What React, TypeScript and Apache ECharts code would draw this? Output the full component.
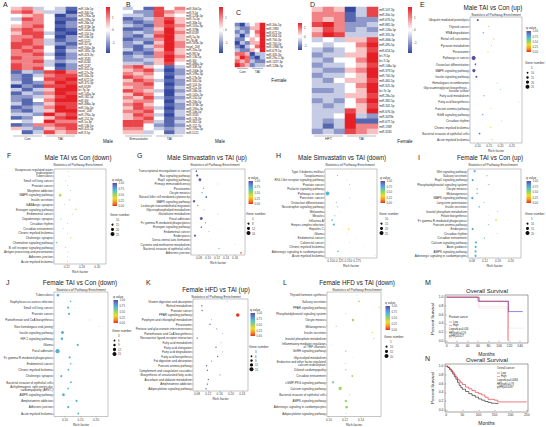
import React, { useEffect, useRef } from "react";
import * as echarts from "echarts";

const FONT = "'Liberation Sans', Arial, sans-serif";
const HEAT_COLORS = ["#3448a0", "#ffffff", "#e51f25"];
const Q_COLORS = ["#ec2b1f", "#f59a23", "#eadf2c", "#9bd25c", "#52c2d0", "#5a8ad5", "#5c4aa6"];

// ---------------- Heatmap A (Male, Con vs TAI) ----------------
const A_rows = ["miR-10b-5p","miR-340-5p","miR-190a-5p","miR-199a-5p","miR-26b-5p","miR-374b-5p","miR-142a-5p","miR-150-5p","miR-20b-5p","miR-5121","miR-32-5p","miR-200a-3p","miR-181c-5p","miR-423-3p","miR-3535","miR-6240","miR-2137","miR-455-5p","miR-27a-3p","miR-34a-5p","miR-672-5p","miR-375-3p","miR-6539","let-7g-5p","miR-145a-5p","miR-182-5p","miR-30f","miR-486a-5p","miR-10a-5p","novel_208","miR-195a-5p","miR-152-3p","miR-1a-3p","miR-136-5p","miR-425-5p","miR-9-5p"];
// digits 0..8 -> z-score (d-4)/2
const A_cells = ["563431","675330","456402","376411","466402","567412","676401","577310","667402","676312","776321","767402","676413","667302","766412","667323","766302","767412","132786","213677","214778","312687","021778","313588","132687","223578","214688","312577","123687","213588","332867","124578","434866","126677","532567","413756"];

// ---------------- Heatmap B (Male, Simvastatin vs TAI) ----------------
const B_rows = ["miR-30d-5p","miR-9-5p","miR-125b-5p","miR-7a-5p","miR-30b-5p","miR-101a-3p","miR-378b","miR-6539","miR-1a-3p","let-7g-5p","miR-181b-5p","novel_208","miR-10a-5p","miR-98-5p","miR-136-5p","miR-30f","miR-486a-5p","miR-338-5p","miR-200b-5p","miR-199a-5p","miR-27b-3p","miR-340-5p","miR-154-3p","miR-21a-5p","miR-26b-5p","miR-142a-5p","miR-150-5p","miR-20b-5p","miR-374b-5p","miR-190a-5p","miR-10b-5p","miR-3535","miR-128-3p","miR-362-5p","miR-152-3p","miR-195a-5p","miR-5121"];
const B_cells = ["341746","422765","332754","123675","212685","321676","112585","232686","213785","122685","231586","213686","312585","121675","232686","223585","332574","675413","567302","656412","765403","576312","667402","566413","765302","576403","657312","566403","675412","576302","667413","576303","567412","776313","774212","664323","553413"];

// ---------------- Heatmap C (Female, Con vs TAI) ----------------
const C_rows = ["miR-34a-5p","miR-1983","miR-672-5p","miR-664-5p","miR-700-3p","miR-700-5p","miR-1968-5p","miR-679-5p","miR-335-3p","miR-29a-1-3p","miR-1197-3p","miR-126b-5p"];
const C_cells = ["213458","322558","232468","313458","224548","132558","213468","322548","665133","576213","656322","765233"];

// ---------------- Heatmap D (Female, HFT vs TAI) ----------------
const D_rows = ["miR-107-3p","miR-30e-5p","miR-676-5p","miR-881-3p","miR-126a-5p","miR-335-3p","miR-466i-5p","miR-490-5p","miR-653-5p","let-7f-5p","let-7i-5p","miR-146a-5p","miR-379-5p","miR-700-3p","miR-465-5p","miR-325-3p","let-7e-5p","miR-28a-5p","miR-382-5p","miR-341-5p","miR-676-3p","miR-3473b","miR-677-5p","miR-1949","miR-3535"];
const D_cells = ["565037","666137","656122","786223","576232","687333","343557","434468","323457","233558","324468","233457","322568","233458","324557","333468","223458","333557","232468","323457","333758","334832","323811","313866","232765"];

// ---------------- E: Male TAI vs Con (up) ----------------
const E_terms = ["Ubiquitin mediated proteolysis","Thyroid cancer","RNA degradation","Renal cell carcinoma","Pyruvate metabolism","Peroxisome","Pathways in cancer","Osteoclast differentiation","MAPK signaling pathway","Insulin signaling pathway","Homologous recombination","Glycosaminoglycan biosynthesis -\nkeratan sulfate","Fatty acid metabolism","Fatty acid biosynthesis","Fanconi anemia pathway","ErbB signaling pathway","Circadian rhythm","Chronic myeloid leukemia","Bacterial invasion of epithelial cells","Acute myeloid leukemia"];
const E_rich = [0.10,0.148,0.124,0.17,0.16,0.145,0.082,0.09,0.083,0.094,0.185,0.20,0.127,0.28,0.158,0.122,0.205,0.157,0.108,0.163];
const E_q = [0.95,0.5,0.75,0.3,0.45,0.35,1.0,0.95,1.0,0.95,0.55,0.6,0.75,0.6,0.35,0.7,0.55,0.35,0.9,0.4];
const E_genes = [12,5,7,7,5,6,26,9,20,12,4,4,6,3,5,7,4,6,9,6];
const E_ticks = [0.10,0.15,0.20,0.25];

// ---------------- F: Male TAI vs Con (down) ----------------
const F_terms = ["Vasopressin-regulated water\nreabsorption","Tuberculosis","Small cell lung cancer","Prostate cancer","Morphine addiction","MAPK signaling pathway","Insulin secretion","GABAergic synapse","Estrogen signaling pathway","Endometrial cancer","Dopaminergic synapse","Circadian rhythm","Circadian entrainment","Chronic myeloid leukemia","Cholinergic synapse","Chemokine signaling pathway","B cell receptor signaling pathway","Antigen processing and presentation","Adherens junction","Acute myeloid leukemia"];
const F_rich = [0.124,0.126,0.117,0.123,0.130,0.103,0.127,0.114,0.144,0.136,0.105,0.122,0.111,0.122,0.131,0.094,0.117,0.123,0.122,0.122];
const F_q = [0.6,0.6,0.55,0.6,0.6,0.45,0.6,0.6,0.35,0.6,0.65,0.6,0.6,0.6,0.35,0.72,0.6,0.6,0.6,0.6];
const F_genes = [9,9,9,9,9,18,10,9,12,9,10,9,9,9,11,11,9,9,9,9];
const F_ticks = [0.12,0.16,0.20];

// ---------------- G: Male Simvastatin vs TAI (up) ----------------
const G_terms = ["Transcriptional misregulation in cancer","Ras signaling pathway","Rap1 signaling pathway","Primary immunodeficiency","Peroxisome","Oocyte meiosis","Natural killer cell mediated cytotoxicity","MAPK signaling pathway","Leukocyte transendothelial migration","Glycerophospholipid metabolism","Glutathione metabolism","Focal adhesion","Fc gamma R-mediated phagocytosis","Estrogen signaling pathway","Endometrial cancer","Endocytosis","Dorso-ventral axis formation","Cysteine and methionine metabolism","Bacterial invasion of epithelial cells","Adherens junction"];
const G_rich = [0.074,0.076,0.082,0.122,0.090,0.087,0.096,0.069,0.077,0.091,0.122,0.085,0.094,0.085,0.102,0.071,0.105,0.16,0.124,0.173];
const G_q = [0.95,0.95,0.95,0.6,0.7,0.7,0.9,0.95,0.8,0.7,0.6,0.95,0.7,0.9,0.6,0.95,0.6,0.55,0.65,0.05];
const G_genes = [6,9,11,3,5,5,7,10,5,4,3,12,5,6,4,9,2,3,5,6];
const G_ticks = [0.08,0.10,0.12,0.14,0.16];

// ---------------- H: Male Simvastatin vs TAI (down) ----------------
const H_terms = ["Type II diabetes mellitus","Toxoplasmosis","RIG-I-like receptor signaling pathway","Prostate cancer","Prolactin signaling pathway","Pathways in cancer","Pancreatic cancer","Osteoclast differentiation","Neurotrophin signaling pathway","Melanoma","Measles","Influenza A","Herpes simplex infection","Hepatitis C","Glioma","Endometrial cancer","Colorectal cancer","Chronic myeloid leukemia","Adrenergic signaling in cardiomyocytes","Acute myeloid leukemia"];
const H_rich = [0.16,0.119,0.146,0.154,0.157,0.09,0.154,0.115,0.118,0.125,0.111,0.103,0.108,0.151,0.146,0.175,0.154,0.194,0.12,0.227];
const H_q = [0.55,0.75,0.6,0.7,0.6,0.7,0.65,0.7,0.7,0.6,0.72,0.72,0.72,0.3,0.6,0.6,0.6,0.35,0.7,0.55];
const H_genes = [5,10,6,9,8,24,9,10,10,6,10,12,14,12,6,5,5,7,12,5];
const H_ticks = [0.100,0.125,0.150,0.175];

// ---------------- I: Female TAI vs Con (up) ----------------
const I_terms = ["Wnt signaling pathway","Salivary secretion","Rap1 signaling pathway","Phosphatidylinositol signaling system","Oocyte meiosis","Melanogenesis","MAPK signaling pathway","Long-term potentiation","Insulin secretion","Inositol phosphate metabolism","Folate biosynthesis","Fc gamma R-mediated phagocytosis","Fanconi anemia pathway","Endocytosis","Circadian rhythm","Circadian entrainment","Calcium signaling pathway","Axon guidance","AMPK signaling pathway","Adrenergic signaling in cardiomyocytes"];
const I_rich = [0.088,0.126,0.082,0.132,0.096,0.096,0.081,0.117,0.102,0.159,0.13,0.154,0.131,0.082,0.157,0.118,0.092,0.091,0.091,0.091];
const I_q = [0.72,0.6,0.72,0.6,0.7,0.7,0.72,0.65,0.7,0.35,0.6,0.35,0.6,0.72,0.55,0.65,0.72,0.72,0.72,0.72];
const I_genes = [10,6,11,6,7,7,12,5,7,6,3,8,5,11,4,6,10,10,10,10];
const I_ticks = [0.08,0.12,0.16,0.20];

// ---------------- J: Female TAI vs Con (down) ----------------
const J_terms = ["Tuberculosis","Staphylococcus aureus infection","Small cell lung cancer","Prostate cancer","Pantothenate and CoA biosynthesis","Non-homologous end-joining","Insulin signaling pathway","HIF-1 signaling pathway","Glioma","Focal adhesion","Fc gamma R-mediated phagocytosis","Endometrial cancer","Chronic myeloid leukemia","Cholinergic synapse","Bacterial invasion of epithelial cells","Arrhythmogenic right ventricular\ncardiomyopathy (ARVC)","AMPK signaling pathway","Amphetamine addiction","Adherens junction","Acute myeloid leukemia"];
const J_rich = [0.077,0.118,0.110,0.113,0.18,0.21,0.092,0.090,0.141,0.076,0.115,0.118,0.111,0.088,0.119,0.110,0.095,0.137,0.110,0.143];
const J_q = [0.72,0.65,0.72,0.72,0.6,0.6,0.72,0.72,0.72,0.72,0.72,0.65,0.72,0.72,0.72,0.65,0.72,0.72,0.72,0.72];
const J_genes = [10,5,7,7,2,2,11,9,7,16,7,5,6,7,6,6,10,7,7,6];
const J_ticks = [0.10,0.15,0.20];

// ---------------- K: Female HFD vs TAI (up) ----------------
const K_terms = ["Vitamin digestion and absorption","Retinol metabolism","Prostate cancer","PPAR signaling pathway","Porphyrin and chlorophyll metabolism","Peroxisome","Pentose and glucuronate interconversions","Pantothenate and CoA biosynthesis","Neuroactive ligand-receptor interaction","Fatty acid metabolism","Fatty acid elongation","Fatty acid degradation","Fatty acid biosynthesis","Fat digestion and absorption","Fanconi anemia pathway","Complement and coagulation cascades","Biosynthesis of unsaturated fatty acids","Ascorbate and aldarate metabolism","Amphetamine addiction","Adipocytokine signaling pathway"];
const K_rich = [0.186,0.097,0.098,0.224,0.131,0.126,0.150,0.17,0.081,0.165,0.147,0.17,0.153,0.132,0.114,0.117,0.161,0.120,0.117,0.112];
const K_q = [0.9,0.95,0.95,0.02,0.9,0.95,0.9,0.9,0.95,0.9,0.95,0.9,0.95,0.9,0.95,0.95,0.9,0.95,0.95,0.95];
const K_genes = [2,4,4,13,2,4,3,2,4,2,4,2,4,3,4,4,3,4,4,4];
const K_ticks = [0.08,0.12,0.16,0.20,0.24];

// ---------------- L: Female HFD vs TAI (down) ----------------
const L_terms = ["Thyroid hormone synthesis","Salivary secretion","PPAR signaling pathway","Phosphatidylinositol signaling system","Oocyte meiosis","Melanogenesis","Insulin secretion","Inositol phosphate metabolism","Inflammatory mediator regulation\nof TRP channels","GnRH signaling pathway","Glycerolipid metabolism","Endocrine and other factor-regulated\ncalcium reabsorption","Dilated cardiomyopathy","Circadian entrainment","cGMP-PKG signaling pathway","Calcium signaling pathway","Bacterial invasion of epithelial cells","AMPK signaling pathway","Adrenergic signaling in cardiomyocytes","Adipocytokine signaling pathway"];
const L_rich = [0.135,0.1375,0.1625,0.121,0.13,0.109,0.154,0.156,0.104,0.121,0.13,0.12,0.121,0.129,0.105,0.114,0.126,0.121,0.122,0.121];
const L_q = [0.55,0.45,0.35,0.55,0.5,0.55,0.4,0.5,0.6,0.55,0.55,0.55,0.55,0.5,0.6,0.5,0.55,0.5,0.5,0.55];
const L_genes = [4,8,6,4,12,5,6,5,3,6,3,4,6,8,10,16,5,12,14,4];
const L_ticks = [0.10,0.12,0.14];

// ---------------- M: Overall Survival (Prostate cancer) ----------------
const M_low_t = [0, 60, 118, 145];
const M_low_s = [1, 0.91, 0.67, 0.67];
const M_low_lo = [1, 0.79, 0.29, 0.29];
const M_high_t = [0, 62, 117, 117];
const M_high_s = [1, 0.9, 0.0, 0.0];
const M_high_lo = [1, 0.75, 0.0, 0.0];
const M_ticks = [0, 20, 40, 60, 80, 100, 120, 140];

// ---------------- N: Overall Survival ----------------
const N_low_t = [0,5,10,15,20,25,30,35,40,45,50,60,70,80,90,100,110,120,130,140,150,162];
const N_low_s = [1,0.97,0.93,0.88,0.82,0.76,0.7,0.63,0.56,0.51,0.47,0.42,0.37,0.33,0.29,0.25,0.22,0.19,0.17,0.15,0.14,0.14];
const N_high_t = [0,5,10,15,20,25,30,35,40,45,50,60,70,80,90,100,110,120,130,150,160,250];
const N_high_s = [1,0.97,0.94,0.9,0.85,0.8,0.75,0.7,0.66,0.62,0.58,0.52,0.48,0.44,0.4,0.37,0.34,0.29,0.24,0.22,0.18,0.18];
const N_ticks = [0, 50, 100, 150, 200, 250];
const Y_surv_ticks = [0, 0.2, 0.4, 0.6, 0.8, 1.0];

function sizeOf(g: number, gMin: number, gMax: number) {
  return Math.max(0.6, 1.0 + ((g - gMin) / (gMax - gMin)) * 3.0);
}

function buildOption() {
  const grids: any[] = [];
  const xAxes: any[] = [];
  const yAxes: any[] = [];
  const series: any[] = [];
  const vms: any[] = [];
  const g: any[] = [];

  const txt = (x: number, y: number, text: string, size: number, o: any = {}) => {
    g.push({
      type: "text", x, y, silent: true, rotation: o.rot || 0,
      style: {
        text, fontSize: size, fontFamily: FONT, fill: o.fill || "#222",
        textAlign: o.align || "left", align: o.align || "left",
        textVerticalAlign: "middle", verticalAlign: "middle",
        fontWeight: o.weight || "normal",
      },
    });
  };
  const line = (x1: number, y1: number, x2: number, y2: number, stroke = "#444", w = 0.4, dash?: number[]) => {
    g.push({ type: "line", silent: true, shape: { x1, y1, x2, y2 }, style: { stroke, lineWidth: w, lineDash: dash } });
  };

  // ---------- heatmaps ----------
  const addHeat = (l: number, t: number, w: number, h: number, cells: string[], rows: string[], lim: number) => {
    const gi = grids.length;
    grids.push({ left: l, top: t, width: w, height: h, show: false });
    xAxes.push({ type: "category", gridIndex: gi, data: ["1", "2", "3", "4", "5", "6"], show: false });
    yAxes.push({
      type: "category", gridIndex: gi, data: rows, inverse: true, position: "right",
      axisLine: { show: false }, axisTick: { show: false },
      axisLabel: { interval: 0, fontSize: 2.9, margin: 1.2, color: "#222", fontFamily: FONT },
    });
    const data: any[] = [];
    cells.forEach((s, r) => s.split("").forEach((ch, c) => data.push([c, r, (Number(ch) - 4) / 2])));
    const si = series.length;
    series.push({ type: "heatmap", xAxisIndex: gi, yAxisIndex: gi, data, itemStyle: { borderWidth: 0 } });
    vms.push({ type: "continuous", show: false, seriesIndex: si, min: -lim, max: lim, dimension: 2, inRange: { color: HEAT_COLORS } });
  };
  const heatBar = (x: number, t: number, b: number, lim: number) => {
    g.push({
      type: "rect", silent: true, shape: { x, y: t, width: 4, height: b - t },
      style: { fill: new echarts.graphic.LinearGradient(0, 0, 0, 1, [
        { offset: 0, color: HEAT_COLORS[2] }, { offset: 0.5, color: HEAT_COLORS[1] }, { offset: 1, color: HEAT_COLORS[0] }]) },
    });
    [1, 0, -1].forEach((v) => {
      const y = t + ((lim - v) / (2 * lim)) * (b - t);
      line(x + 4, y, x + 5, y, "#666", 0.3);
      txt(x + 6, y, String(v), 3, { fill: "#444" });
    });
  };
  const groupLab = (x1: number, x2: number, y: number, lab: string) => {
    line(x1 + 2, y, x2 - 2, y, "#555", 0.4);
    txt((x1 + x2) / 2, y + 3, lab, 3.6, { align: "center", fill: "#333" });
  };

  addHeat(11, 7, 66, 127, A_cells, A_rows, 1.8);
  addHeat(123, 7, 62, 127, B_cells, B_rows, 1.8);
  addHeat(235, 23, 30, 44, C_cells, C_rows, 1.5);
  addHeat(312, 7, 66, 127, D_cells, D_rows, 1.8);
  heatBar(106, 7, 53, 1.8);
  heatBar(219, 7, 53, 1.8);
  heatBar(298, 23, 50, 1.5);
  heatBar(408, 7, 53, 1.8);
  groupLab(11, 44, 136, "Con"); groupLab(44, 77, 136, "TAI");
  groupLab(123, 154, 136, "Simvastatin"); groupLab(154, 185, 136, "TAI");
  groupLab(235, 250, 68.5, "Con"); groupLab(250, 265, 68.5, "TAI");
  groupLab(312, 345, 136, "HFT"); groupLab(345, 378, 136, "TAI");
  txt(108, 141, "Male", 4.6, { align: "center" });
  txt(220, 141, "Male", 4.6, { align: "center" });
  txt(279, 80, "Female", 4.6, { align: "center" });
  txt(405, 141, "Female", 4.6, { align: "center" });

  // ---------- scatter (pathway enrichment) ----------
  const addScatter = (p: any) => {
    const gi = grids.length;
    grids.push({ left: p.l, top: p.t, width: p.w, height: p.h, show: true, borderColor: "#8a8a8a", borderWidth: 0.5, backgroundColor: "#fff" });
    xAxes.push({
      type: "value", gridIndex: gi, min: p.min, max: p.max,
      name: "Rich factor", nameLocation: "middle", nameGap: 6.5,
      nameTextStyle: { fontSize: 3.4, color: "#333", fontFamily: FONT },
      axisLine: { show: false }, splitLine: { show: false },
      axisTick: { show: true, length: 1, customValues: p.ticks, lineStyle: { color: "#666", width: 0.4 } },
      axisLabel: { customValues: p.ticks, fontSize: 3.1, margin: 1.3, color: "#444", fontFamily: FONT, formatter: (v: number) => v.toFixed(p.dec) },
    });
    yAxes.push({
      type: "category", gridIndex: gi, data: p.terms, inverse: true,
      axisLine: { show: false },
      axisTick: { show: true, length: 1, alignWithLabel: true, lineStyle: { color: "#666", width: 0.4 } },
      axisLabel: { interval: 0, fontSize: 3.0, margin: 1.3, color: "#333", lineHeight: 3.1, fontFamily: FONT },
    });
    const si = series.length;
    series.push({
      type: "scatter", xAxisIndex: gi, yAxisIndex: gi,
      data: p.terms.map((_: string, i: number) => [p.rich[i], i, p.q[i], p.genes[i]]),
      symbolSize: (v: number[]) => sizeOf(v[3], p.gMin, p.gMax),
      itemStyle: { opacity: 1, borderWidth: 0 },
    });
    vms.push({ type: "continuous", show: false, seriesIndex: si, min: 0, max: 1, dimension: 2, inRange: { color: Q_COLORS } });

    // titles
    txt(p.tx, p.ty, p.title, 6.3, { align: "center" });
    txt(p.sx, p.ty + 7.5, "Statistics of Pathway Enrichment", 3.4, { align: "center", fill: "#333" });
    // q value legend
    const qx = p.qx, qy = p.qy, bh = p.qh;
    txt(qx, qy, "q value", 3.2, { fill: "#333" });
    g.push({
      type: "rect", silent: true, shape: { x: qx + 0.5, y: qy + 3, width: 4.5, height: bh },
      style: { fill: new echarts.graphic.LinearGradient(0, 0, 0, 1, Q_COLORS.slice().reverse().map((c, i) => ({ offset: i / (Q_COLORS.length - 1), color: c }))) },
    });
    [1, 0.75, 0.5, 0.25, 0].forEach((v) => {
      const y = qy + 3 + (1 - v) * bh;
      txt(qx + 6.5, y, v.toFixed(2), 2.8, { fill: "#444" });
    });
    // gene number legend
    txt(p.gx, p.gy, "Gene number", 3.2, { fill: "#333" });
    p.gvals.forEach((v: number, i: number) => {
      const y = p.gy + 5 + i * p.gdy;
      g.push({ type: "circle", silent: true, shape: { cx: p.gx + 2.5, cy: y, r: sizeOf(v, p.gMin, p.gMax) / 2 }, style: { fill: "#111" } });
      txt(p.gx + 6, y, String(v), 2.8, { fill: "#444" });
    });
  };

  addScatter({ terms: E_terms, rich: E_rich, q: E_q, genes: E_genes, ticks: E_ticks, dec: 2, l: 470, t: 17, w: 52, h: 126, min: 0.066, max: 0.294,
    title: "Male TAI vs Con (up)", tx: 493, ty: 7, sx: 496, qx: 526, qy: 28, qh: 21, gx: 525, gy: 63, gvals: [5, 10, 15, 20, 25], gdy: 4.7, gMin: 5, gMax: 25 });
  addScatter({ terms: F_terms, rich: F_rich, q: F_q, genes: F_genes, ticks: F_ticks, dec: 2, l: 54, t: 169, w: 52, h: 95, min: 0.087, max: 0.2226,
    title: "Male TAI vs Con (down)", tx: 78, ty: 157, sx: 78, qx: 112, qy: 180, qh: 23, gx: 110, gy: 215, gvals: [10, 15, 20, 25], gdy: 4.7, gMin: 10, gMax: 25 });
  addScatter({ terms: G_terms, rich: G_rich, q: G_q, genes: G_genes, ticks: G_ticks, dec: 2, l: 191, t: 169, w: 54, h: 86, min: 0.0622, max: 0.182,
    title: "Male Simvastatin vs TAI (up)", tx: 207, ty: 157, sx: 215, qx: 248, qy: 178, qh: 23, gx: 246, gy: 214, gvals: [4, 8, 12, 16], gdy: 4.7, gMin: 4, gMax: 16 });
  addScatter({ terms: H_terms, rich: H_rich, q: H_q, genes: H_genes, ticks: H_ticks, dec: 3, l: 325, t: 169, w: 52, h: 89, min: 0.0827, max: 0.2326,
    title: "Male Simvastatin vs TAI (down)", tx: 342, ty: 157, sx: 350, qx: 380, qy: 178, qh: 22, gx: 379, gy: 214, gvals: [10, 15, 20, 25], gdy: 4.7, gMin: 10, gMax: 25 });
  addScatter({ terms: I_terms, rich: I_rich, q: I_q, genes: I_genes, ticks: I_ticks, dec: 2, l: 468, t: 169, w: 53, h: 89, min: 0.0677, max: 0.231,
    title: "Female TAI vs Con (up)", tx: 490, ty: 157, sx: 493, qx: 526, qy: 178, qh: 22, gx: 525, gy: 214, gvals: [5, 10, 15, 20], gdy: 4.7, gMin: 5, gMax: 20 });
  addScatter({ terms: J_terms, rich: J_rich, q: J_q, genes: J_genes, ticks: J_ticks, dec: 2, l: 54, t: 292, w: 54, h: 126, min: 0.0645, max: 0.2387,
    title: "Female TAI vs Con (down)", tx: 80, ty: 282, sx: 81, qx: 113, qy: 297, qh: 23, gx: 112, gy: 331, gvals: [3, 6, 9, 12, 15], gdy: 4.5, gMin: 3, gMax: 15 });
  addScatter({ terms: K_terms, rich: K_rich, q: K_q, genes: K_genes, ticks: K_ticks, dec: 2, l: 193, t: 299, w: 55, h: 92, min: 0.066, max: 0.2603,
    title: "Female HFD vs TAI (up)", tx: 216, ty: 289, sx: 216, qx: 250, qy: 310, qh: 23, gx: 249, gy: 347, gvals: [3, 6, 9, 12, 15], gdy: 4.3, gMin: 3, gMax: 15 });
  addScatter({ terms: L_terms, rich: L_rich, q: L_q, genes: L_genes, ticks: L_ticks, dec: 2, l: 327, t: 292, w: 54, h: 126, min: 0.0975, max: 0.165,
    title: "Female HFD vs TAI (down)", tx: 357, ty: 282, sx: 357, qx: 385, qy: 303, qh: 24, gx: 384, gy: 337, gvals: [5, 10, 15, 20], gdy: 4.7, gMin: 5, gMax: 20 });

  // ---------- survival ----------
  const addSurv = (l: number, t: number, w: number, h: number, xmin: number, xmax: number, ticks: number[]) => {
    const gi = grids.length;
    grids.push({ left: l, top: t, width: w, height: h, show: true, borderColor: "#444", borderWidth: 0.5 });
    xAxes.push({
      type: "value", gridIndex: gi, min: xmin, max: xmax, name: "Months", nameLocation: "middle", nameGap: 8,
      nameTextStyle: { fontSize: 5, color: "#222", fontFamily: FONT },
      axisLine: { show: false }, splitLine: { show: false },
      axisTick: { show: true, length: 1.2, customValues: ticks, lineStyle: { color: "#444", width: 0.4 } },
      axisLabel: { customValues: ticks, fontSize: 3.4, margin: 1.5, color: "#333", fontFamily: FONT },
    });
    yAxes.push({
      type: "value", gridIndex: gi, min: -0.05, max: 1.05, name: "Percent Survival", nameLocation: "middle", nameGap: 9,
      nameTextStyle: { fontSize: 4.4, color: "#222", fontFamily: FONT },
      axisLine: { show: false }, splitLine: { show: false },
      axisTick: { show: true, length: 1.2, customValues: Y_surv_ticks, lineStyle: { color: "#444", width: 0.4 } },
      axisLabel: { customValues: Y_surv_ticks, fontSize: 3.4, margin: 1.5, color: "#333", fontFamily: FONT, formatter: (v: number) => v.toFixed(1) },
    });
    return gi;
  };
  const addCurve = (gi: number, t: number[], s: number[], color: string, w: number, dash?: any) => {
    series.push({
      type: "line", xAxisIndex: gi, yAxisIndex: gi, step: "end", symbol: "none",
      data: t.map((v, i) => [v, s[i]]), lineStyle: { color, width: w, type: dash || "solid" }, silent: true,
    });
  };
  const gm = addSurv(445, 295, 83, 48, -3, 155, M_ticks);
  addCurve(gm, M_low_t, M_low_lo, "#f2a0a0", 0.4, [1, 1]);
  addCurve(gm, M_high_t, M_high_lo, "#f2a0a0", 0.4, [1, 1]);
  addCurve(gm, M_low_t, M_low_s, "#3b3bd6", 0.6);
  addCurve(gm, M_high_t, M_high_s, "#e0202a", 0.6);
  const gn = addSurv(445, 364, 83, 48, -4, 254, N_ticks);
  addCurve(gn, N_low_t, N_low_s, "#111111", 0.6);
  addCurve(gn, N_high_t, N_high_s, "#e0202a", 0.6);

  txt(487, 291, "Overall Survival", 6, { align: "center" });
  txt(487, 360, "Overall Survival", 6, { align: "center" });
  // M legend
  txt(449, 318, "Prostate cancer", 2.7);
  line(449, 322, 452, 322, "#3b3bd6", 0.4); txt(453, 322, "Low", 2.6);
  line(449, 325.5, 452, 325.5, "#e0202a", 0.4); txt(453, 325.5, "High", 2.6);
  txt(449, 329.5, "Logrank p=0.016", 2.6);
  txt(449, 333, "HR(high)=0.19", 2.6);
  txt(449, 336.5, "p(HR)=0.027", 2.6);
  // N legend
  txt(497, 369, "Overall cancer", 2.7);
  line(497, 373, 500, 373, "#111", 0.4); txt(501, 373, "Low", 2.6);
  line(497, 376.5, 500, 376.5, "#e0202a", 0.4); txt(501, 376.5, "High", 2.6);
  txt(497, 380.5, "Logrank p=0.0094", 2.6);
  txt(497, 384, "HR(high)=0.79", 2.6);
  txt(497, 387.5, "p(HR)=0.0097", 2.6);

  // ---------- panel letters ----------
  const letters: [string, number, number][] = [
    ["A", 3, 4], ["B", 126, 4], ["C", 236, 12], ["D", 310, 4], ["E", 420, 4],
    ["F", 7, 155], ["G", 137, 155], ["H", 276, 155], ["I", 418, 157],
    ["J", 6, 282], ["K", 146, 282], ["L", 283, 282], ["M", 425, 282], ["N", 425, 358],
  ];
  letters.forEach(([s, x, y]) => txt(x, y, s, 7, { fill: "#222" }));

  return {
    animation: false,
    backgroundColor: "#ffffff",
    grid: grids,
    xAxis: xAxes,
    yAxis: yAxes,
    visualMap: vms,
    series,
    graphic: { elements: g },
  };
}

export default function App() {
  const ref = useRef<HTMLDivElement>(null);
  useEffect(() => {
    const chart = echarts.init(ref.current as HTMLDivElement, null, { renderer: "svg" });
    chart.setOption(buildOption() as any);
    return () => chart.dispose();
  }, []);
  return (
    <div
      ref={ref}
      style={{ position: "fixed", left: 0, top: 0, width: 546, height: 427, background: "#fff" }}
    />
  );
}
